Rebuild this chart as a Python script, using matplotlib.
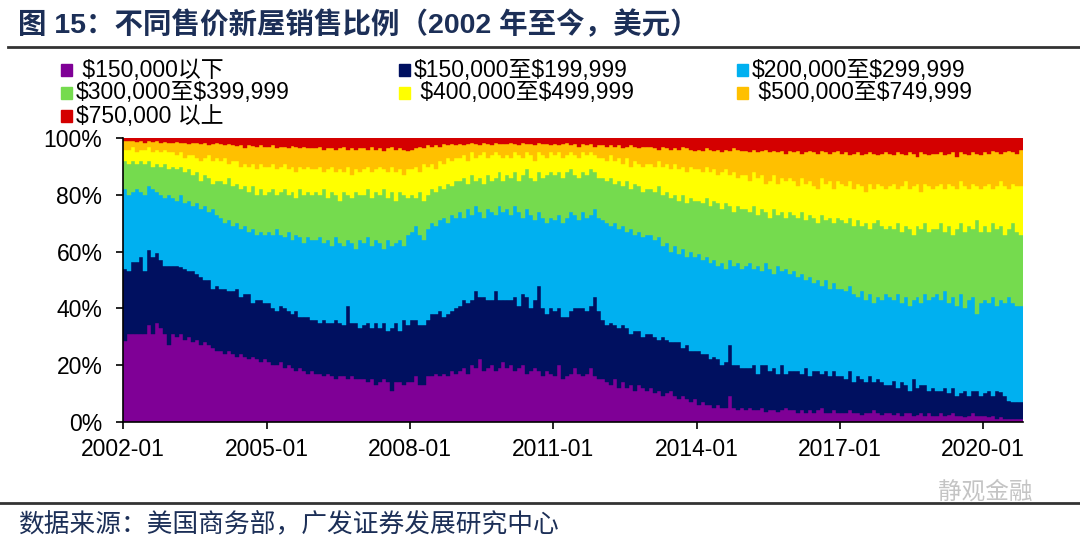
import numpy as np
import matplotlib
matplotlib.use('Agg')
import matplotlib.pyplot as plt
from matplotlib.patches import Rectangle
from matplotlib.lines import Line2D

plt.rcParams['font.family'] = ['Liberation Sans', 'Noto Sans CJK SC']

# 月度数据：2002-01 至 2020-10
months = [f'{y}-{m:02d}' for y in range(2002, 2021) for m in range(1, 13)][:226]
tick_labels = ['2002-01', '2005-01', '2008-01', '2011-01', '2014-01', '2017-01', '2020-01']

series_names = [' $150,000以下', '$150,000至$199,999', '$200,000至$299,999',
                '$300,000至$399,999', ' $400,000至$499,999', ' $500,000至$749,999',
                '$750,000 以上']
colors = ['#7F0096', '#001060', '#00B0F0', '#75DB4E', '#FFFF00', '#FFC000', '#D40000']

# 各价格区间占比(%)，每行一年
p_below150 = [
    28.5, 31, 31, 31, 31, 31, 34, 31, 35, 33, 31, 27,
    31, 30, 31, 29, 30, 28, 29, 27, 28, 27, 26, 25,
    25, 24, 25, 24, 23, 24, 23, 22, 23, 22, 21, 22,
    21, 20, 20, 21, 19, 20, 19, 18, 19, 18, 17, 18,
    17, 17, 16, 17, 16, 15, 16, 16, 15, 16, 15, 15,
    15, 14, 15, 13, 14, 15, 14, 11, 14, 14, 13, 14,
    14, 16, 13, 13, 16, 16, 17, 16, 17, 16, 18, 17,
    18, 19, 17, 20, 19, 22, 18, 19, 20, 18, 19, 21,
    19, 20, 18, 19, 20, 17, 18, 19, 18, 16, 18, 17,
    16, 20, 15, 16, 17, 19, 17, 16, 17, 19, 16, 15,
    15, 14, 13, 15, 12, 14, 12, 13, 11, 13, 12, 11,
    12, 10, 11, 9, 10, 11, 9, 8, 9, 8, 7, 8,
    6, 7, 6, 6, 5, 6, 5, 5, 9, 5, 4, 5,
    4, 5, 4, 4, 5, 3.5, 4, 4, 3.5, 4, 5, 4,
    4, 3, 4, 3, 4, 3, 4, 5, 3, 3, 4, 3,
    3, 3, 4, 3, 3, 2.5, 3, 3, 4, 3, 2.5, 3,
    3, 2.5, 3, 2, 3, 3, 2, 2.5, 3, 2, 3, 2,
    2, 3, 2, 2.5, 3, 2, 2, 1.5, 2, 3, 2, 2,
    2, 1.5, 2, 1, 1.5, 1, 1, 0.8, 0.8, 0.8]

p_150_199 = [
    25.5, 22, 25.5, 25.5, 27, 22, 26.5, 27, 24.5, 24, 24, 28,
    24, 25, 23.5, 25, 23, 25, 23, 24, 22, 23, 21, 23,
    22, 23, 21, 22, 24, 20, 22, 23, 19, 21, 22, 20,
    21, 20, 19, 20, 21, 19, 19, 21, 18, 19, 20, 18,
    19, 18, 20, 18, 19, 21, 19, 18, 26, 19, 20, 18,
    19, 21, 18, 22, 19, 20, 18, 22, 21, 18, 23, 20,
    22, 20, 21, 21, 20, 22, 21, 23, 20, 22, 21, 23,
    23, 24, 25, 23, 27, 22, 26, 24, 23, 28, 24, 22,
    24, 23, 26, 22, 25, 27, 22, 24, 30, 24, 20, 23,
    23, 20, 22, 21, 22, 21, 23, 24, 22, 22, 28, 24,
    21, 20, 22, 19, 21, 20, 21, 18, 21, 19, 18, 20,
    19, 20, 18, 21, 19, 17, 19, 20, 17, 19, 18, 17,
    19, 17, 18, 16, 18, 16, 15, 16, 18, 15, 16, 14,
    15, 14, 16, 13, 15, 16.5, 14, 15, 13.5, 16, 12, 14,
    14, 15, 13, 16, 12, 15, 14, 12, 15, 13, 14, 13,
    13, 12, 14, 11, 13, 12.5, 11, 13, 10, 12, 11.5, 10,
    10, 12, 9, 12, 10, 8, 13, 9.5, 10, 11, 8, 10,
    9, 8, 10, 7.5, 9, 7, 8, 9.5, 7, 8, 9, 7,
    8, 9.5, 7, 10, 9, 8, 6.2, 6.2, 6.2, 6.2]

p_200_299 = [
    28, 27, 24.5, 25.5, 23, 27, 22.5, 24, 21.5, 23, 24, 25,
    24, 23, 25.5, 23, 25, 23, 25, 24, 26, 24, 28, 25,
    25, 23, 25, 23, 23, 24, 24, 22, 26, 23, 24, 24,
    25, 26, 29, 25, 25, 28, 26, 27, 28, 26, 28, 28,
    28, 30, 27, 29, 27, 29, 28, 28, 23, 28, 26, 31,
    29, 30, 29, 29, 30, 26, 32, 29, 28, 32, 26, 32,
    31, 33, 32, 30, 32, 32, 31, 32, 35, 32, 34, 32,
    33, 29, 33, 30, 30, 30, 28, 32, 31, 27, 33, 31,
    32, 30, 32, 33, 27, 31, 33, 28, 26, 32, 32, 32,
    32, 33, 33, 35, 35, 33, 31, 34, 33, 32, 31, 33,
    35, 36, 34, 36, 35, 35, 34, 37, 34, 35, 35, 35,
    35, 34, 36, 32, 34, 32, 34, 31, 35, 31, 35, 33,
    34, 33, 34, 34, 34, 33, 36, 33, 30, 35, 36, 35,
    36, 37, 34, 38, 33, 36, 36, 33, 38, 33, 37, 34,
    35, 33, 35, 31, 35, 31, 32, 31, 32, 31, 31, 31,
    31, 31, 30, 31, 28, 31, 29, 29, 28, 29, 29, 32,
    31, 28.5, 33, 28, 31, 30, 28, 32, 29, 32, 32, 32,
    34, 32, 34, 32, 32, 32, 35, 29, 34, 33, 27, 33,
    33, 31, 35, 30, 32.5, 33, 36.8, 35, 34, 34]

p_300_399 = [
    10, 11, 11, 9, 11, 11, 9, 8, 10, 10, 12, 9,
    11, 11, 10, 11, 11, 11, 11, 10, 11, 12, 9, 12,
    13, 14, 15, 14, 14, 14, 14, 14, 15, 14, 15, 14,
    14, 16, 12, 15, 17, 13, 17, 13, 17, 17, 16, 16,
    17, 15, 19, 15, 19, 15, 15, 19, 16, 16, 20, 16,
    17, 17, 17, 17, 17, 21, 15, 19, 15, 17, 18, 13,
    13, 10, 15, 14, 12, 12, 12, 12, 10, 14, 10, 13,
    11, 14, 9, 14, 9, 12, 12, 12, 11, 13, 12, 11,
    12, 13, 12, 11, 15, 14, 13, 14, 14, 14, 17, 16,
    16, 15, 16, 16, 15, 14, 15, 14, 15, 16, 13, 14,
    15, 15, 17, 14, 17, 14, 18, 14, 18, 16, 16, 16,
    16, 17, 18, 18, 18, 19, 18, 19, 19, 19, 19, 20,
    19, 20, 21, 20, 21, 22, 19, 23, 19, 19, 20, 21,
    20, 18, 22, 18, 22, 18, 18, 23, 18, 21, 18, 22,
    20, 21, 22, 21, 22, 23, 20, 25, 21, 25, 21, 25,
    24, 24, 24, 24, 27, 23, 27, 23, 28, 27, 26, 23,
    25, 25, 25, 25, 25, 27, 23, 25, 26, 25, 24, 24,
    23, 27, 21, 27, 22, 27, 25, 27, 26, 24, 33, 25,
    26, 25, 26, 27, 26, 24, 24, 28, 26, 25]

p_400_499 = [
    4, 5, 5, 4, 4, 5, 5, 5, 5, 5, 5, 6,
    5, 5, 5, 5, 5, 7, 5, 7, 6, 8, 8, 8,
    7, 9, 5, 9, 8, 8, 8, 9, 8, 9, 9, 10,
    9, 9, 9, 9, 9, 9, 9, 9, 8, 9, 9, 9,
    8, 10, 6, 10, 9, 8, 11, 7, 10, 8, 8, 8,
    9, 8, 9, 8, 10, 7, 9, 9, 10, 8, 7, 10,
    9, 11, 7, 13, 10, 9, 8, 9, 9, 9, 9, 8,
    8, 8, 8, 8, 8, 8, 11, 6, 9, 9, 6, 8,
    7, 7, 7, 9, 6, 6, 8, 7, 7, 8, 6, 7,
    7, 7, 7, 6, 6, 7, 7, 7, 7, 6, 6, 7,
    7, 7, 8, 8, 8, 8, 8, 8, 8, 8, 9, 9,
    9, 9, 9, 10, 10, 10, 11, 11, 10, 11, 11, 11,
    11, 11, 11, 12, 11, 10, 13, 12, 11, 14, 10, 12,
    12, 11, 12, 13, 12, 10, 13, 12, 11, 12, 13, 12,
    12, 11, 12, 13, 12, 11, 12, 13, 13, 13, 12, 13,
    13, 13, 13, 13, 13, 14, 11, 16, 12, 13, 14, 14,
    14, 16, 12, 16, 16, 14, 17, 15, 13, 14, 16, 14,
    15, 14, 15, 15, 17, 14, 15, 16, 13, 16, 12, 15,
    14, 17, 12, 15, 16, 17, 14, 14, 16, 17]

p_500_749 = [
    3.2, 3, 2.2, 3.8, 3, 2.5, 2, 3.8, 3, 3.5, 2.7, 3.5,
    3.5, 4.8, 3.2, 5.5, 4, 4.5, 5.3, 6, 5.5, 3.5, 6, 5.2,
    6, 4.5, 7, 5.8, 5.2, 7.5, 5.5, 7.5, 6.2, 8, 6.5, 7,
    7, 6.5, 7.5, 7, 6, 7.5, 7.2, 9, 6.5, 8, 6.7, 7.5,
    7.5, 7, 8, 7.5, 6.5, 8, 7.5, 9, 6, 9.5, 7, 8.5,
    7.5, 6, 9, 7, 6.5, 6.5, 8.5, 7, 8, 7.5, 9, 6.5,
    7, 6.5, 9, 5.5, 7.5, 6, 8.5, 5, 7, 4.5, 6, 4.5,
    5, 3.5, 6, 3.5, 5, 3.5, 3.5, 5, 3.5, 3.5, 4, 5,
    4, 5.5, 3, 3.5, 5.5, 3, 4, 5.5, 3.5, 4, 5, 2.5,
    4, 2.5, 5, 4.5, 2.5, 4, 4, 3, 3.5, 3, 3, 4.5,
    4.5, 5, 3.5, 5, 4.5, 5.5, 4, 7.5, 5, 5.5, 7, 6,
    6, 6.5, 4, 7, 5.5, 7, 5.5, 7, 7, 8.5, 6, 6.5,
    7, 7.5, 6.5, 8, 6.5, 9, 7, 7, 8.5, 8.5, 10, 8.5,
    8.5, 10, 8, 9, 8.5, 12, 10, 8.5, 11, 9.5, 9.5, 9.5,
    10, 12.5, 8.5, 11, 10.5, 12, 12.5, 9.5, 11, 9.5, 13, 10.5,
    10.5, 12, 9, 12.5, 11, 11, 13.5, 11, 12.5, 10, 11.5, 13,
    11.5, 10, 13, 11.5, 9, 13, 11.5, 9.5, 14, 10.5, 11, 12.5,
    11.5, 11, 12, 10.5, 12, 11.5, 10, 11.5, 12, 11, 11.5, 12,
    12, 10.5, 13.5, 12, 9.5, 12, 13.5, 11, 11.5, 13]

p_above750 = [
    0.8, 1, 0.8, 1.2, 1, 1.5, 1, 1.2, 1, 1.5, 1.3, 1.5,
    1.5, 1.2, 1.8, 1.5, 2, 1.5, 1.7, 2, 1.5, 2.5, 2, 1.8,
    2, 2.5, 2, 2.2, 2.8, 2.5, 3.5, 2.5, 2.8, 3, 2.5, 3,
    3, 2.5, 3.5, 3, 3, 3.5, 2.8, 3, 3.5, 3, 3.3, 3.5,
    3.5, 3, 4, 3.5, 3.5, 4, 3.5, 3, 4, 3.5, 4, 3.5,
    3.5, 4, 3, 4, 3.5, 4.5, 3.5, 3, 4, 3.5, 4, 4.5,
    4, 3.5, 3, 3.5, 2.5, 3, 2.5, 3, 2, 2.5, 2, 2.5,
    2, 2.5, 2, 1.5, 2, 2.5, 1.5, 2, 2.5, 1.5, 2, 2,
    2, 1.5, 2, 2.5, 1.5, 2, 2, 2.5, 1.5, 2, 2, 2.5,
    2, 2.5, 2, 1.5, 2.5, 2, 3, 2, 2.5, 2, 3, 2.5,
    2.5, 3, 2.5, 3, 2.5, 3.5, 3, 2.5, 3, 3.5, 3, 3,
    3, 3.5, 4, 3, 3.5, 4, 3.5, 4, 3, 3.5, 4, 4.5,
    4, 4.5, 3.5, 4, 4.5, 4, 5, 4, 4.5, 3.5, 4, 4.5,
    4.5, 5, 4, 5, 4.5, 4, 5, 4.5, 5, 4.5, 5.5, 4.5,
    5, 4.5, 5.5, 5, 4.5, 5, 5.5, 4.5, 5, 5.5, 5, 4.5,
    5.5, 5, 6, 5.5, 5, 6, 5.5, 5, 5.5, 6, 5.5, 5,
    5.5, 6, 5, 5.5, 6, 5, 5.5, 6.5, 5, 5.5, 6, 5.5,
    5.5, 5, 6, 5.5, 5, 6.5, 5, 5.5, 6, 5, 5.5, 6,
    5, 5.5, 4.5, 5, 5.5, 5, 4.5, 5, 5.5, 4]

shares = np.array([p_below150, p_150_199, p_200_299, p_300_399,
                   p_400_499, p_500_749, p_above750], dtype=float)
# 100%堆积
pct = shares / shares.sum(axis=0) * 100

W, H = 1080, 547
navy_txt = '#1c2f57'

fig = plt.figure(figsize=(W / 100, H / 100), dpi=100)
ax = fig.add_axes([123.3 / W, 1 - 421.7 / H, (1023 - 123.3) / W, (421.7 - 138.3) / H])

x = np.arange(len(months))
bottom = np.zeros(len(months))
for vals, c in zip(pct, colors):
    ax.bar(x, vals, width=1.0, bottom=bottom, align='edge', color=c,
           edgecolor=c, linewidth=0.3)
    bottom += vals

ax.set_xlim(0, len(months))
ax.set_ylim(0, 100)
ax.set_xticks([months.index(t) for t in tick_labels])
ax.set_xticklabels(tick_labels)
ax.set_yticks(range(0, 101, 20))
ax.set_yticklabels([f'{v}%' for v in range(0, 101, 20)])
ax.tick_params(axis='both', direction='out', length=5, width=1.2, labelsize=16.5)
ax.tick_params(axis='x', pad=7)
ax.tick_params(axis='y', pad=10)
for s in ['top', 'right']:
    ax.spines[s].set_visible(False)
for s in ['left', 'bottom']:
    ax.spines[s].set_linewidth(1.2)

# 图例（手动排布，三列）
col_x = [61, 399, 737]
row_y = [70, 93, 116]
for i, (name, c) in enumerate(zip(series_names, colors)):
    r, k = divmod(i, 3)
    mx, my = col_x[k], row_y[r]
    fig.add_artist(Rectangle((mx / W, 1 - (my + 5.5) / H), 11 / W, 11 / H,
                             transform=fig.transFigure, color=c))
    fig.text((mx + 15) / W, 1 - my / H, name, fontsize=16.5, va='center', ha='left',
             parse_math=False)

# 标题、分隔线、来源
fig.text(18 / W, 1 - 25 / H, '图 15：不同售价新屋销售比例（2002 年至今，美元）',
         fontsize=20.5, fontweight='bold', color=navy_txt, va='center', ha='left')
fig.add_artist(Line2D([8 / W, 1], [1 - 47 / H] * 2, color='#333333', lw=2))
fig.add_artist(Line2D([0, 1], [1 - 503 / H] * 2, color='#333333', lw=2))
fig.text(18 / W, 1 - 525 / H, '数据来源：美国商务部，广发证券发展研究中心',
         fontsize=18.5, color=navy_txt, va='center', ha='left',
         family=['Noto Sans CJK SC'])
fig.text(938 / W, 1 - 492 / H, '静观金融', fontsize=17, color='#c4c4c4',
         va='center', ha='left', family=['Noto Sans CJK SC'])

fig.savefig('out.png', dpi=100)
